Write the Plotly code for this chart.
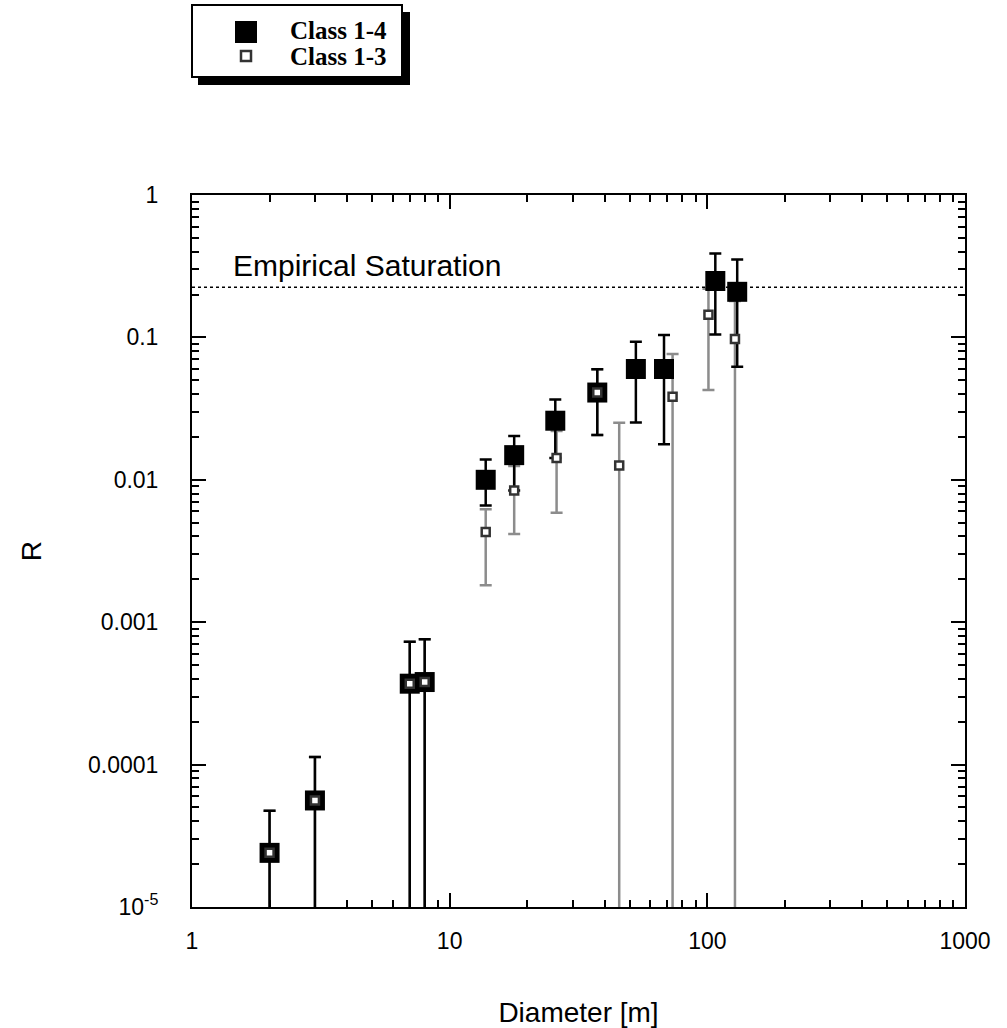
import plotly.graph_objects as go

# ---------------- data ----------------
# Class 1-4 (filled squares)
d_c14 = [2, 3, 7, 8, 13.8, 17.8, 25.7, 37.4, 52.8, 67.9, 107.4, 130.6]
r_c14 = [2.4e-5, 5.6e-5, 3.7e-4, 3.8e-4, 0.0100, 0.0149, 0.026, 0.041, 0.060, 0.060, 0.249, 0.209]
hi_c14 = [4.75e-5, 1.13e-4, 7.3e-4, 7.6e-4, 0.0139, 0.0203, 0.0367, 0.0597, 0.0933, 0.104, 0.389, 0.353]
lo_c14 = [None, None, None, None, 0.0066, 0.0084, 0.0142, 0.0206, 0.0253, 0.0178, 0.105, 0.0623]

# Class 1-3 (open squares)
d_c13 = [2, 3, 7, 8, 13.8, 17.8, 26.0, 37.4, 45.5, 73.3, 101, 128]
r_c13 = [2.4e-5, 5.6e-5, 3.7e-4, 3.8e-4, 0.0043, 0.0084, 0.0142, 0.041, 0.0126, 0.0383, 0.144, 0.0975]
hi_c13 = [4.75e-5, 1.13e-4, 7.3e-4, 7.6e-4, 0.0062, 0.0125, 0.022, 0.0597, 0.0252, 0.0766, 0.22, 0.18]
lo_c13 = [None, None, None, None, 0.00182, 0.00416, 0.00587, 0.0206, None, None, 0.0427, None]

saturation_R = 0.225

x_tickvals = [1, 10, 100, 1000]
x_ticktext = ["1", "10", "100", "1000"]
y_tickvals = [1, 0.1, 0.01, 0.001, 0.0001, 1e-5]
y_ticktext = ["1", "0.1", "0.01", "0.001", "0.0001", "10<sup>-5</sup>"]

series_names = ["Class 1-4", "Class 1-3"]

# minor tick positions (2..9 within each decade)
x_minor = [m * 10 ** k for k in range(0, 3) for m in range(2, 10)]
y_minor = [m * 10.0 ** k for k in range(-5, 0) for m in range(2, 10)]

# ---------------- helpers ----------------
FLOOR = 1e-8  # error bars "to zero" run off the bottom of the log axis


def errs(r, hi, lo):
    plus = [h - v for v, h in zip(r, hi)]
    minus = [v - (l if l is not None else FLOOR) for v, l in zip(r, lo)]
    return plus, minus


p14, m14 = errs(r_c14, hi_c14, lo_c14)
p13, m13 = errs(r_c13, hi_c13, lo_c13)

W, H = 1007, 1028
L, R, T, B = 192, 42, 195, 121
PW, PH = W - L - R, H - T - B


def px_x(x):  # screen pixel -> paper
    return (x - L) / PW


def px_y(y):
    return (H - B - y) / PH


fig = go.Figure()

# open-series error bars (gray), drawn first
fig.add_trace(go.Scatter(
    x=d_c13, y=r_c13, mode="markers", showlegend=False, hoverinfo="skip",
    marker=dict(size=1, opacity=0),
    error_y=dict(type="data", symmetric=False, array=p13, arrayminus=m13,
                 color="#8c8c8c", thickness=2.5, width=6),
))

# filled series with black error bars
fig.add_trace(go.Scatter(
    x=d_c14, y=r_c14, mode="markers", name=series_names[0], showlegend=False,
    marker=dict(symbol="square", size=20, color="black", line=dict(width=0)),
    error_y=dict(type="data", symmetric=False, array=p14, arrayminus=m14,
                 color="black", thickness=2.5, width=6),
))

# open series markers on top
fig.add_trace(go.Scatter(
    x=d_c13, y=r_c13, mode="markers", name=series_names[1], showlegend=False,
    marker=dict(symbol="square", size=8, color="white", line=dict(width=2.5, color="#333333")),
))

# empirical saturation line
fig.add_shape(type="line", xref="x", yref="y", x0=1, x1=1000, y0=saturation_R, y1=saturation_R,
              line=dict(color="black", width=1.5, dash="dot"))
fig.add_annotation(x=0.151, y=-0.4916, xref="x", yref="y", text="Empirical Saturation",
                   showarrow=False, xanchor="left", yanchor="middle",
                   font=dict(family="Liberation Sans, Arial, sans-serif", size=30, color="black"))

# ---------------- manual legend box ----------------
shapes = [
    dict(type="rect", xref="paper", yref="paper", x0=px_x(198), x1=px_x(410), y0=px_y(85), y1=px_y(12),
         fillcolor="black", line=dict(width=0), layer="above"),
    dict(type="rect", xref="paper", yref="paper", x0=px_x(192), x1=px_x(402), y0=px_y(77), y1=px_y(5),
         fillcolor="white", line=dict(color="black", width=2), layer="above"),
    dict(type="rect", xref="paper", yref="paper", x0=px_x(235), x1=px_x(257), y0=px_y(43), y1=px_y(21),
         fillcolor="black", line=dict(width=0), layer="above"),
    dict(type="rect", xref="paper", yref="paper", x0=px_x(241), x1=px_x(251), y0=px_y(61), y1=px_y(51),
         fillcolor="white", line=dict(color="#333333", width=2.5), layer="above"),
]
for s in shapes:
    fig.add_shape(**s)

for name, ycen in zip(series_names, [30, 57]):
    fig.add_annotation(x=px_x(289), y=px_y(ycen), xref="paper", yref="paper", text="<b>%s</b>" % name,
                       showarrow=False, xanchor="left", yanchor="middle", borderpad=0,
                       font=dict(family="Liberation Serif, Times New Roman, serif", size=25, color="black"))

axis_font = dict(family="Liberation Sans, Arial, sans-serif", size=23, color="black")
title_font = dict(family="Liberation Sans, Arial, sans-serif", size=28, color="black")

fig.update_layout(
    width=W, height=H,
    margin=dict(l=L, r=R, t=T, b=B, autoexpand=False),
    paper_bgcolor="white", plot_bgcolor="white",
    showlegend=False,
    xaxis=dict(
        type="log", range=[0, 3], tickvals=x_tickvals, ticktext=x_ticktext,
        ticks="inside", ticklen=14, tickwidth=2, tickcolor="black",
        minor=dict(tickvals=x_minor, ticks="inside", ticklen=7, tickwidth=1.5, tickcolor="black", showgrid=False),
        showline=True, linewidth=2, linecolor="black", mirror="ticks",
        showgrid=False, zeroline=False, tickfont=axis_font, ticklabelstandoff=12,
        title=dict(text="Diameter [m]", font=title_font, standoff=51),
        automargin=False,
    ),
    yaxis=dict(
        type="log", range=[-5, 0], tickvals=y_tickvals, ticktext=y_ticktext,
        ticks="inside", ticklen=14, tickwidth=2, tickcolor="black",
        minor=dict(tickvals=y_minor, ticks="inside", ticklen=7, tickwidth=1.5, tickcolor="black", showgrid=False),
        showline=True, linewidth=2, linecolor="black", mirror="ticks",
        showgrid=False, zeroline=False, tickfont=axis_font, ticklabelstandoff=27,
        title=dict(text="R", font=title_font, standoff=38),
        automargin=False,
    ),
)

fig.write_html("out.html", config={"displayModeBar": False},
               post_script="document.body.style.margin='0px';")
